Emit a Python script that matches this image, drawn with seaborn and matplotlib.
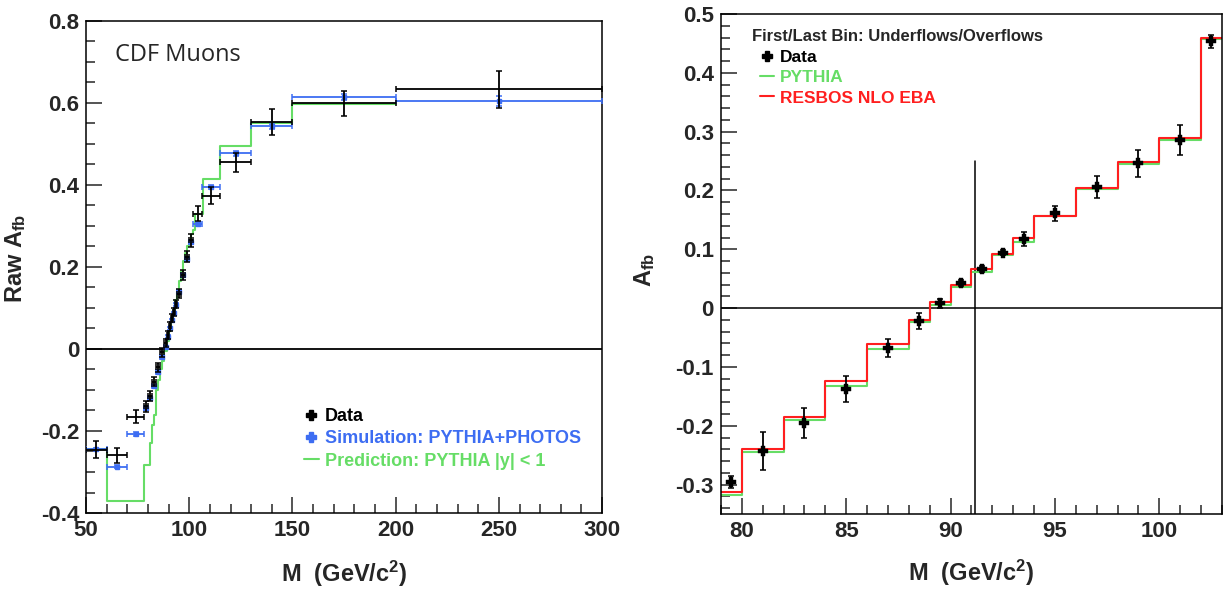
import numpy as np
import matplotlib
matplotlib.use("Agg")
import matplotlib.pyplot as plt
import seaborn as sns
from matplotlib.lines import Line2D
from matplotlib.ticker import MultipleLocator

# ---- left panel: CDF muons, raw A_fb ----
mu_edges = [50, 60, 70, 78, 80, 82, 84, 86, 88, 89, 90, 91, 92, 93, 94, 96, 98,
            100, 102, 106, 115, 130, 150, 200, 300]
mu_data = [-0.246, -0.259, -0.165, -0.14, -0.115, -0.08, -0.045, -0.008, 0.015,
           0.035, 0.055, 0.075, 0.09, 0.11, 0.135, 0.18, 0.225, 0.265, 0.33,
           0.374, 0.455, 0.554, 0.599, 0.633]
mu_data_err = [0.021, 0.018, 0.015, 0.014, 0.012, 0.011, 0.011, 0.011, 0.01, 0.01,
               0.01, 0.01, 0.01, 0.01, 0.011, 0.012, 0.014, 0.016, 0.018, 0.02,
               0.024, 0.031, 0.031, 0.045]
mu_sim = [-0.245, -0.287, -0.207, -0.145, -0.12, -0.09, -0.055, -0.02, 0.005,
          0.03, 0.05, 0.07, 0.088, 0.108, 0.14, 0.18, 0.22, 0.26, 0.305, 0.394,
          0.477, 0.543, 0.614, 0.605]
mu_sim_err = [0.004, 0.004, 0.004, 0.004, 0.003, 0.003, 0.003, 0.003, 0.003, 0.003,
              0.003, 0.003, 0.003, 0.003, 0.003, 0.004, 0.004, 0.004, 0.005, 0.005,
              0.006, 0.006, 0.008, 0.012]
pred_edges = [50, 60, 78, 81, 82, 83, 84, 85, 86, 87, 88, 89, 90, 91, 92, 93, 94,
              95, 96, 97, 98, 99, 100, 101, 102, 103, 106.5, 115, 130, 150, 200]
pred_afb = [-0.245, -0.37, -0.283, -0.23, -0.185, -0.16, -0.10, -0.075, -0.05,
            -0.03, -0.005, 0.02, 0.045, 0.07, 0.095, 0.12, 0.14, 0.165, 0.19,
            0.215, 0.235, 0.25, 0.265, 0.28, 0.29, 0.33, 0.415, 0.495, 0.55, 0.598]

# ---- right panel: A_fb around the Z pole ----
z_edges = [79, 80, 82, 84, 86, 88, 89, 90, 91, 92, 93, 94, 96, 98, 100, 102, 103]
z_data = [-0.295, -0.243, -0.195, -0.137, -0.068, -0.022, 0.008, 0.042, 0.067,
          0.094, 0.118, 0.161, 0.206, 0.246, 0.286, 0.454]
z_data_err = [0.01, 0.033, 0.026, 0.022, 0.015, 0.014, 0.008, 0.005, 0.005, 0.004,
              0.012, 0.013, 0.018, 0.023, 0.026, 0.011]
z_pythia = [-0.317, -0.245, -0.19, -0.132, -0.07, -0.024, 0.005, 0.036, 0.062,
            0.091, 0.113, 0.156, 0.202, 0.245, 0.285, 0.457]
z_resbos = [-0.313, -0.239, -0.185, -0.124, -0.061, -0.02, 0.011, 0.04, 0.066,
            0.092, 0.119, 0.156, 0.204, 0.249, 0.29, 0.459]
z_mass = 91.19

GREEN = "#66dd66"
BLUE = "#3d6df2"
RED = "#ff1f1f"

sns.set_style("ticks")
plt.rcParams['font.family'] = ['Liberation Sans', 'DejaVu Sans']
plt.rcParams['font.weight'] = 'bold'
plt.rcParams['mathtext.fontset'] = 'custom'
plt.rcParams['mathtext.rm'] = 'Liberation Sans:bold'
plt.rcParams['mathtext.bf'] = 'Liberation Sans:bold'
plt.rcParams['mathtext.it'] = 'Liberation Sans:bold'


def centers_halfwidths(edges):
    e = np.asarray(edges, dtype=float)
    return (e[1:] + e[:-1]) / 2, (e[1:] - e[:-1]) / 2


def step(ax, edges, vals, color):
    y = list(vals) + [vals[-1]]
    sns.lineplot(x=edges, y=y, drawstyle="steps-post", color=color, lw=1.5,
                 estimator=None, sort=False, ax=ax)


def root_axes(ax):
    for s in ax.spines.values():
        s.set_linewidth(1.1)
        s.set_color("black")
    ax.tick_params(which="both", direction="in", top=False, right=False,
                   labelsize=16, width=1.1, pad=5)
    ax.tick_params(which="major", length=11.3)
    ax.tick_params(which="minor", length=6.5)
    for lab in ax.get_xticklabels() + ax.get_yticklabels():
        lab.set_fontweight("bold")


fig = plt.figure(figsize=(12.24, 5.9), dpi=100)
ax1 = fig.add_axes([0.0703, 0.1305, 0.4216, 0.834])
ax2 = fig.add_axes([0.589, 0.1288, 0.4093, 0.8475])

# left
mc, mh = centers_halfwidths(mu_edges)
ax1.axhline(0, color="black", lw=1.3, zorder=1)
step(ax1, pred_edges, pred_afb, GREEN)
ax1.errorbar(mc, mu_sim, xerr=mh, yerr=mu_sim_err, fmt="s", ms=3.5, color=BLUE,
             ecolor=BLUE, elinewidth=1.3, capsize=2.5, capthick=1.1, zorder=3)
ax1.errorbar(mc, mu_data, xerr=mh, yerr=mu_data_err, fmt="none", ecolor="black",
             elinewidth=1.3, capsize=2.5, capthick=1.1, zorder=4)
ax1.set_xlim(50, 300)
ax1.set_ylim(-0.4, 0.8)
ax1.xaxis.set_major_locator(MultipleLocator(50))
ax1.xaxis.set_minor_locator(MultipleLocator(10))
ax1.yaxis.set_minor_locator(MultipleLocator(0.05))
ax1.set_yticks([-0.4, -0.2, 0, 0.2, 0.4, 0.6, 0.8],
               ["-0.4", "-0.2", "0", "0.2", "0.4", "0.6", "0.8"])
root_axes(ax1)
ax1.set_xlabel(r"M  (GeV/c$^{2}$)", fontsize=17, fontweight="bold", va="center")
ax1.xaxis.set_label_coords(0.5, -0.123)
ax1.set_ylabel(r"Raw A$_{fb}$", fontsize=17, fontweight="bold")
ax1.yaxis.set_label_coords(-0.112, 0.518)
ax1.text(0.056, 0.931, "CDF Muons", transform=ax1.transAxes, fontsize=17,
         fontweight="normal", family=["Open Sans", "DejaVu Sans"], va="center")
h1 = [Line2D([], [], ls="none", marker="P", ms=7, color="black"),
      Line2D([], [], ls="none", marker="P", ms=7, color=BLUE),
      Line2D([], [], color=GREEN, lw=1.5)]
ax1.legend(h1, ["Data", "Simulation: PYTHIA+PHOTOS", "Prediction: PYTHIA |y| < 1"],
           loc="upper left", bbox_to_anchor=(0.405, 0.232), frameon=False,
           borderpad=0, handlelength=0.8, handletextpad=0.35, labelspacing=0.3,
           prop={"weight": "bold", "size": 13},
           labelcolor=["black", BLUE, GREEN])

# right
zc, zh = centers_halfwidths(z_edges)
ax2.axhline(0, color="black", lw=1.1, zorder=1)
ax2.plot([z_mass, z_mass], [-0.35, 0.25], color="black", lw=1.1, zorder=1)
step(ax2, z_edges, z_pythia, GREEN)
step(ax2, z_edges, z_resbos, RED)
ax2.errorbar(zc, z_data, yerr=z_data_err, fmt="none", ecolor="black",
             elinewidth=1.3, capsize=2.5, capthick=1.1, zorder=4)
sns.scatterplot(x=zc, y=z_data, marker="P", s=45, color="black",
                edgecolor="black", linewidth=0.3, zorder=5, ax=ax2)
ax2.set_xlim(79, 103)
ax2.set_ylim(-0.35, 0.5)
ax2.xaxis.set_major_locator(MultipleLocator(5))
ax2.xaxis.set_minor_locator(MultipleLocator(1))
ax2.yaxis.set_minor_locator(MultipleLocator(0.02))
ax2.set_yticks([-0.3, -0.2, -0.1, 0, 0.1, 0.2, 0.3, 0.4, 0.5],
               ["-0.3", "-0.2", "-0.1", "0", "0.1", "0.2", "0.3", "0.4", "0.5"])
root_axes(ax2)
ax2.set_xlabel(r"M  (GeV/c$^{2}$)", fontsize=17, fontweight="bold", va="center")
ax2.xaxis.set_label_coords(0.5, -0.118)
ax2.set_ylabel(r"A$_{fb}$", fontsize=17, fontweight="bold")
ax2.yaxis.set_label_coords(-0.127, 0.488)
ax2.text(0.062, 0.954, "First/Last Bin: Underflows/Overflows", transform=ax2.transAxes,
         fontsize=12, fontweight="bold", va="center")
h2 = [Line2D([], [], ls="none", marker="P", ms=7, color="black"),
      Line2D([], [], color=GREEN, lw=1.5),
      Line2D([], [], color=RED, lw=1.5)]
ax2.legend(h2, ["Data", "PYTHIA", "RESBOS NLO EBA"], loc="upper left",
           bbox_to_anchor=(0.06, 0.946), frameon=False, borderpad=0,
           handlelength=0.8, handletextpad=0.35, labelspacing=0.3,
           prop={"weight": "bold", "size": 12.5},
           labelcolor=["black", GREEN, RED])

fig.savefig("out.png", dpi=100)
